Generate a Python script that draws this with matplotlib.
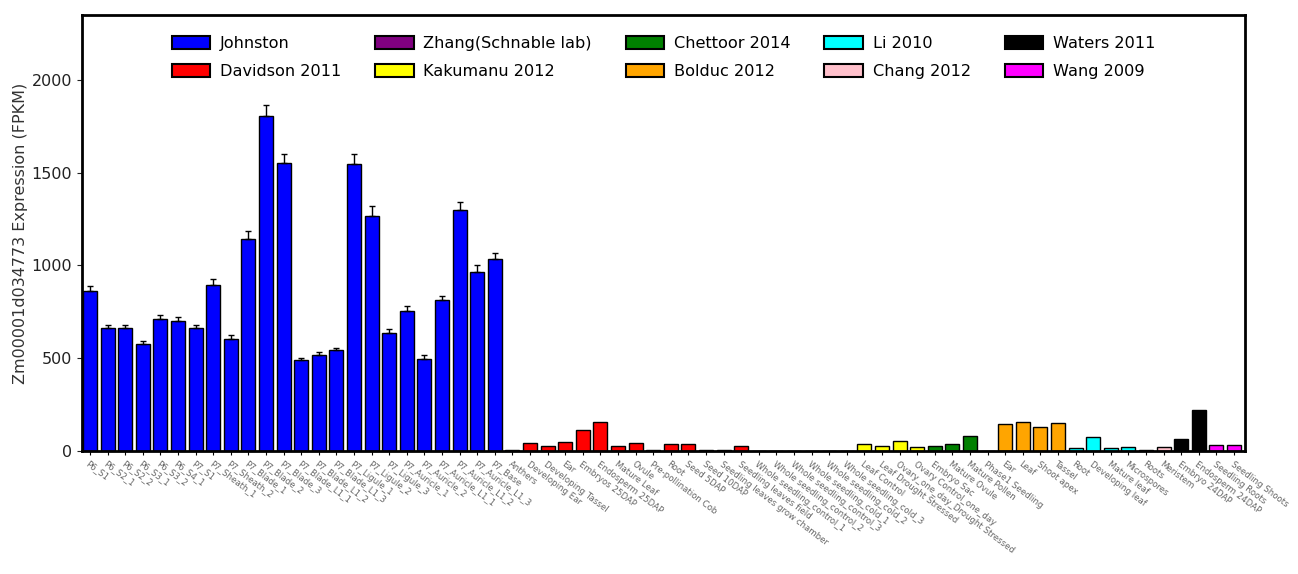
import numpy as np
import matplotlib
matplotlib.use("Agg")
import matplotlib.pyplot as plt
from matplotlib.patches import Patch

# --- Expression data per study (FPKM) ---
studies = ["Johnston", "Davidson 2011", "Zhang(Schnable lab)", "Kakumanu 2012",
           "Chettoor 2014", "Bolduc 2012", "Li 2010", "Chang 2012",
           "Waters 2011", "Wang 2009"]
study_colors = ["#0000ff", "#ff0000", "#800080", "#ffff00", "#008000",
                "#ffa500", "#00ffff", "#ffc0cb", "#000000", "#ff00ff"]

johnston_labels = ["P6_S1", "P6_S2_1", "P6_S2_2", "P6_S3_1", "P6_S3_2", "P6_S4_1",
                   "P7_S1", "P7_Sheath_1", "P7_Sheath_2", "P7_Blade_1", "P7_Blade_2",
                   "P7_Blade_3", "P7_Blade_L1_1", "P7_Blade_L1_2", "P7_Blade_L1_3",
                   "P7_Ligule_1", "P7_Ligule_2", "P7_Ligule_3", "P7_Auricle_1",
                   "P7_Auricle_2", "P7_Auricle_L1_1", "P7_Auricle_L1_2",
                   "P7_Auricle_L1_3", "P7_Base"]
johnston_values = [862, 665, 665, 575, 712, 703, 662, 895, 605, 1145, 1805, 1550,
                   490, 518, 542, 1546, 1265, 638, 755, 495, 812, 1298, 965, 1033]
johnston_err = [25, 15, 15, 20, 20, 20, 18, 30, 18, 40, 60, 50,
                12, 15, 12, 55, 55, 18, 25, 20, 25, 45, 40, 35]

davidson_labels = ["Anthers", "Developing Ear", "Developing Tassel", "Ear",
                   "Embryos 25DAP", "Endosperm 25DAP", "Mature Leaf", "Ovule",
                   "Pre-pollination Cob", "Root", "Seed 5DAP", "Seed 10DAP",
                   "Seedling leaves grow chamber", "Seedling leaves field"]
davidson_values = [3, 45, 28, 50, 115, 155, 25, 42, 3, 40, 38, 7, 7, 25]

zhang_labels = ["Whole seedling_control_1", "Whole seedling_control_2",
                "Whole seedling_control_3", "Whole seedling_cold_1",
                "Whole seedling_cold_2", "Whole seedling_cold_3"]
zhang_values = [2, 1, 1, 1, 1, 1]

kakumanu_labels = ["Leaf Control", "Leaf Drought Stressed",
                   "Ovary_one_day_Drought Stressed", "Ovary Control_one_day"]
kakumanu_values = [40, 28, 55, 22]

chettoor_labels = ["Embryo Sac", "Mature Ovule", "Mature Pollen", "Phase1 Seedling"]
chettoor_values = [28, 35, 82, 1]

bolduc_labels = ["Ear", "Leaf", "Shoot apex", "Tassel"]
bolduc_values = [145, 157, 128, 151]

li_labels = ["Root", "Developing leaf", "Mature leaf", "Microspores"]
li_values = [18, 78, 15, 24]

chang_labels = ["Roots", "Meristem"]
chang_values = [5, 20]

waters_labels = ["Embryo 24DAP", "Endosperm 24DAP"]
waters_values = [62, 222]

wang_labels = ["Seedling Roots", "Seedling Shoots"]
wang_values = [30, 30]

groups = [
    (johnston_labels, johnston_values, johnston_err),
    (davidson_labels, davidson_values, None),
    (zhang_labels, zhang_values, None),
    (kakumanu_labels, kakumanu_values, None),
    (chettoor_labels, chettoor_values, None),
    (bolduc_labels, bolduc_values, None),
    (li_labels, li_values, None),
    (chang_labels, chang_values, None),
    (waters_labels, waters_values, None),
    (wang_labels, wang_values, None),
]

fig = plt.figure(figsize=(12.98, 5.74), dpi=100)
ax = fig.add_axes([0.0632, 0.2143, 0.8960, 0.7597])

all_labels = []
start = 0
for (labels, values, err), color in zip(groups, study_colors):
    x = np.arange(start, start + len(values))
    if err is not None:
        yerr = [np.zeros(len(err)), err]
        ax.bar(x, values, width=0.8, color=color, edgecolor="black", linewidth=1.0,
               yerr=yerr, error_kw=dict(ecolor="black", elinewidth=1.0, capsize=2))
    else:
        ax.bar(x, values, width=0.8, color=color, edgecolor="black", linewidth=1.0)
    all_labels += labels
    start += len(values)

ax.set_xlim(-0.45, start - 1 + 0.63)
ax.set_ylim(0, 2350)
ax.set_yticks([0, 500, 1000, 1500, 2000])
ax.tick_params(axis="y", labelsize=11.5, colors="#222222")
ax.set_xticks(np.arange(start))
ax.set_xticklabels(all_labels, rotation=-37, ha="left", va="top",
                   rotation_mode="anchor", fontsize=6.2, color="#666666")
ax.tick_params(axis="x", length=3, pad=3)
for sp in ax.spines.values():
    sp.set_linewidth(2)

ax.set_ylabel("Zm00001d034773 Expression (FPKM)", fontsize=11.5, color="#333333",
              labelpad=3)

handles = [Patch(facecolor=c, edgecolor="black", linewidth=1.5) for c in study_colors]
ax.legend(handles, studies, loc="upper center", ncol=5, frameon=False,
          fontsize=11.6, handlelength=2.4, handleheight=0.9, columnspacing=2.1,
          handletextpad=0.6, bbox_to_anchor=(0.5, 0.985), labelspacing=0.8)

fig.savefig("out.png", dpi=100)
